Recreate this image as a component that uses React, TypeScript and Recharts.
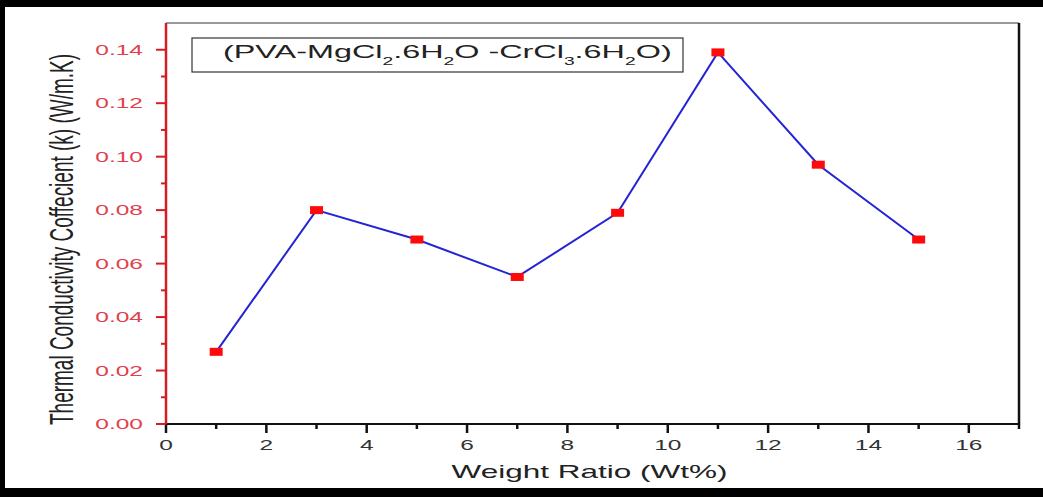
import React from 'react';
import { LineChart, Line, XAxis, YAxis, ReferenceLine } from 'recharts';

// weight ratio (Wt%) and thermal conductivity k (W/m.K)
const weightRatio = [1, 3, 5, 7, 9, 11, 13, 15];
const kValues = [0.027, 0.08, 0.069, 0.055, 0.079, 0.139, 0.097, 0.069];

const xTicks = [0, 1, 2, 3, 4, 5, 6, 7, 8, 9, 10, 11, 12, 13, 14, 15, 16, 17];
const yTicks = [0, 0.01, 0.02, 0.03, 0.04, 0.05, 0.06, 0.07, 0.08, 0.09, 0.1, 0.11, 0.12, 0.13, 0.14];

const xTitle = 'Weight Ratio (Wt%)';
const yTitle = 'Thermal Conductivity Coffecient (k) (W/m.K)';

const data = weightRatio.map((x, i) => ({ x, k: kValues[i] }));

const SX = 1.75; // the original figure is stretched sideways
const FONT = "'Liberation Sans', Arial, sans-serif";
const RED = '#d41c24';

const XTick = (props: any) => {
  const { x, y, payload } = props;
  const major = payload.value % 2 === 0;
  return (
    <g>
      <line x1={x} y1={y} x2={x} y2={y + (major ? 9 : 5)} stroke="#111" strokeWidth={2.5} />
      {major && (
        <text
          transform={`translate(${x},${y + 26}) scale(${SX},1)`}
          textAnchor="middle"
          fontSize={14}
          fill="#333"
          fontFamily={FONT}
        >
          {payload.value}
        </text>
      )}
    </g>
  );
};

const YTick = (props: any) => {
  const { x, y, payload } = props;
  const major = Math.round(payload.value * 100) % 2 === 0;
  return (
    <g>
      <line x1={x} y1={y} x2={x - (major ? 10 : 5)} y2={y} stroke={RED} strokeWidth={2} />
      {major && (
        <text
          transform={`translate(${x - 23},${y + 5}) scale(${SX},1)`}
          textAnchor="end"
          fontSize={14}
          fill="#e0404c"
          fontFamily={FONT}
        >
          {payload.value.toFixed(2)}
        </text>
      )}
    </g>
  );
};

const Marker = (props: any) => {
  const { cx, cy } = props;
  return <rect x={cx - 6.5} y={cy - 4} width={13} height={8} fill="#ff0a0a" />;
};

const App: React.FC = () => {
  return (
    <div style={styles.page}>
      <LineChart
        width={1043}
        height={497}
        data={data}
        margin={{ top: 23, right: 24, bottom: 0, left: 0 }}
        style={{ fontFamily: FONT }}
      >
        <XAxis
          dataKey="x"
          type="number"
          domain={[0, 17]}
          ticks={xTicks}
          interval={0}
          height={73}
          tickSize={0}
          tickMargin={0}
          tickLine={false}
          tick={<XTick />}
          axisLine={{ stroke: '#111', strokeWidth: 2 }}
          label={(p: any) => {
            const vb = p.viewBox;
            return (
              <text
                transform={`translate(${vb.x + vb.width / 2 - 3},${vb.y + 54}) scale(${SX},1)`}
                textAnchor="middle"
                fontSize={18}
                fill="#222"
                fontFamily={FONT}
              >
                {xTitle}
              </text>
            );
          }}
        />
        <YAxis
          type="number"
          domain={[0, 0.15]}
          ticks={yTicks}
          interval={0}
          width={166}
          tickSize={0}
          tickMargin={0}
          tickLine={false}
          tick={<YTick />}
          axisLine={{ stroke: RED, strokeWidth: 2.5 }}
          label={(p: any) => {
            const vb = p.viewBox;
            return (
              <text
                transform={`translate(61,${vb.y + vb.height / 2 + 16}) scale(${SX},1) rotate(-90)`}
                textAnchor="middle"
                dominantBaseline="central"
                fontSize={19}
                fill="#222"
                fontFamily={FONT}
              >
                {yTitle}
              </text>
            );
          }}
        />
        <ReferenceLine y={0.15} stroke="#777" strokeWidth={1.5} />
        <ReferenceLine x={17} stroke="#111" strokeWidth={2.5} />
        <Line
          type="linear"
          dataKey="k"
          stroke="#2424d4"
          strokeWidth={2}
          dot={<Marker />}
          activeDot={false}
          isAnimationActive={false}
        />
        <g>
          <rect x={192} y={38} width={491} height={34} fill="#fff" stroke="#333" strokeWidth={1.2} />
          <text
            transform={`translate(223,58) scale(${SX},1)`}
            fontSize={18.5}
            fill="#222"
            fontFamily={FONT}
          >
            (PVA-MgCl<tspan fontSize={11} dy={7}>2</tspan>
            <tspan dy={-7}>.6H</tspan><tspan fontSize={11} dy={7}>2</tspan>
            <tspan dy={-7}>O -CrCl</tspan><tspan fontSize={11} dy={7}>3</tspan>
            <tspan dy={-7}>.6H</tspan><tspan fontSize={11} dy={7}>2</tspan>
            <tspan dy={-7}>O)</tspan>
          </text>
        </g>
      </LineChart>
      <div style={{ ...styles.bar, left: 0, top: 0, width: 1043, height: 7 }} />
      <div style={{ ...styles.bar, left: 0, top: 0, width: 5, height: 497 }} />
      <div style={{ ...styles.bar, left: 0, top: 488, width: 1043, height: 9 }} />
    </div>
  );
};

const styles = {
  page: {
    position: 'absolute' as const,
    left: 0,
    top: 0,
    width: 1043,
    height: 497,
    background: '#fff',
    overflow: 'hidden' as const,
  },
  bar: {
    position: 'absolute' as const,
    background: '#000',
  },
};

export default App;
